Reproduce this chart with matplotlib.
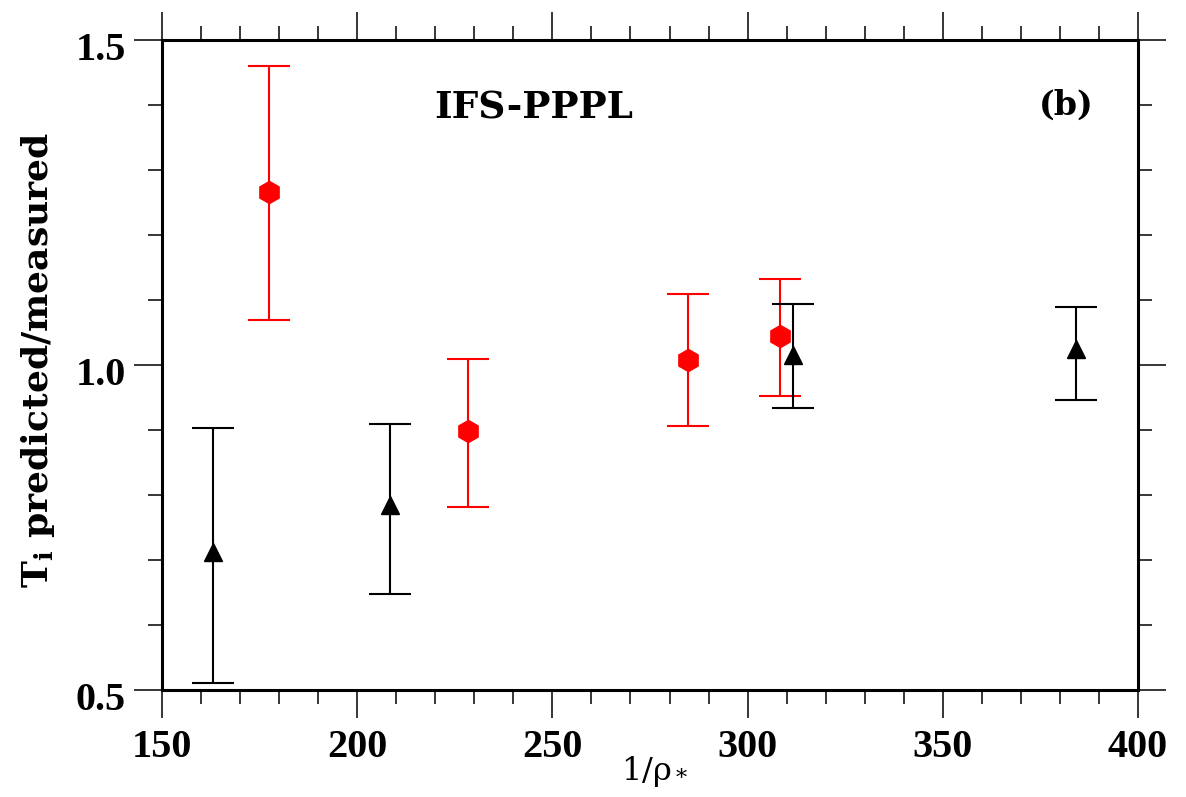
import matplotlib.pyplot as plt
import matplotlib.transforms as mtransforms
from matplotlib.ticker import MultipleLocator

# red hexagons
red_x = [177.4, 228.4, 284.7, 308.3]
red_y = [1.266, 0.898, 1.008, 1.045]
red_hi = [1.460, 1.009, 1.109, 1.132]
red_lo = [1.069, 0.782, 0.906, 0.952]

# black triangles
blk_x = [163.1, 208.4, 311.6, 384.1]
blk_y = [0.712, 0.785, 1.015, 1.025]
blk_hi = [0.903, 0.909, 1.094, 1.089]
blk_lo = [0.511, 0.648, 0.934, 0.946]

x_ticks = [150, 200, 250, 300, 350, 400]
y_ticks = [0.5, 1.0, 1.5]
y_tick_labels = ['0.5', '1.0', '1.5']

plt.rcParams['font.family'] = ['DejaVu Serif']
plt.rcParams['mathtext.fontset'] = 'dejavuserif'

fig = plt.figure(figsize=(11.86, 7.97), dpi=100)
ax = fig.add_axes([0.1366, 0.1343, 0.8229, 0.8155])

def err(y, lo, hi):
    return [[a - b for a, b in zip(y, lo)], [b - a for a, b in zip(y, hi)]]

ax.errorbar(red_x, red_y, yerr=err(red_y, red_lo, red_hi), fmt='none',
            ecolor='red', elinewidth=1.5, capsize=15, capthick=1.5, zorder=2)
ax.plot(red_x, red_y, linestyle='none', marker='h', markersize=16,
        color='red', zorder=3)

ax.errorbar(blk_x, blk_y, yerr=err(blk_y, blk_lo, blk_hi), fmt='none',
            ecolor='black', elinewidth=1.5, capsize=15, capthick=1.5, zorder=4)
ax.plot(blk_x, blk_y, linestyle='none', marker='^', markersize=13,
        color='black', zorder=5)

ax.set_xlim(150, 400)
ax.set_ylim(0.5, 1.5)
ax.set_xticks(x_ticks)
ax.set_yticks(y_ticks)
ax.set_yticklabels(y_tick_labels)
ax.xaxis.set_minor_locator(MultipleLocator(10))
ax.yaxis.set_minor_locator(MultipleLocator(0.1))

for s in ax.spines.values():
    s.set_linewidth(2.2)

ax.tick_params(which='both', direction='out', top=True, right=True, width=1.1)
ax.tick_params(which='major', length=20)
ax.tick_params(which='minor', length=10)
ax.tick_params(axis='x', which='major', pad=8)
ax.tick_params(axis='y', which='major', pad=6)
for lab in ax.get_xticklabels() + ax.get_yticklabels():
    lab.set_family('Liberation Serif')
    lab.set_fontweight('bold')
    lab.set_fontsize(29)

# y tick labels sit a little below their ticks in the original
shift = mtransforms.ScaledTranslation(0, -6 / 100, fig.dpi_scale_trans)
for lab in ax.get_yticklabels():
    lab.set_transform(lab.get_transform() + shift)

ax.set_xlabel(r'$\mathregular{1/\rho_*}$', fontsize=23, va='top')
ax.xaxis.set_label_coords(0.505, -0.098)
ax.set_ylabel(r'$\mathbf{T_i}$ predicted/measured', fontsize=26,
              fontweight='bold')
ax.yaxis.set_label_coords(-0.108, 0.508)

ax.text(0.279, 0.895, 'IFS-PPPL', transform=ax.transAxes, fontsize=27,
        fontweight='bold', va='center')
ax.text(0.898, 0.9, '(b)', transform=ax.transAxes, fontsize=24,
        fontweight='bold', va='center')

fig.savefig('out.png', dpi=100)
